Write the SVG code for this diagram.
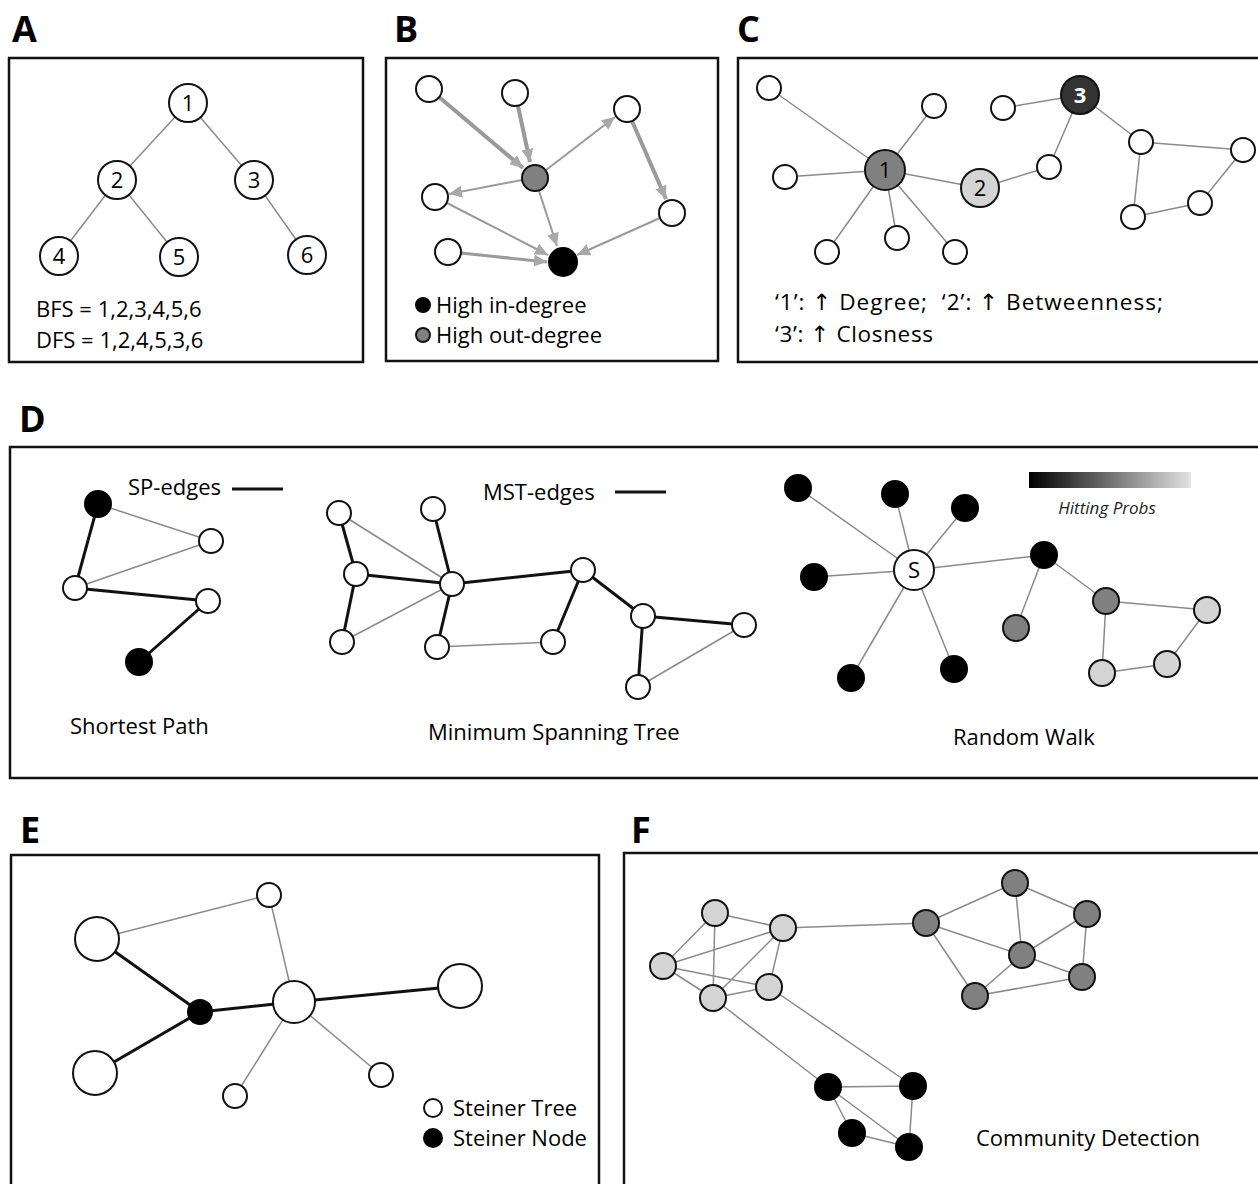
<svg xmlns="http://www.w3.org/2000/svg" width="1258" height="1184" viewBox="0 0 1258 1184">
<style>
text{font-family:"Open Sans","DejaVu Sans","Liberation Sans",sans-serif;fill:#000}
.lbl{font-size:36px;font-weight:700}
.t{font-size:22px}
.tc{font-size:22.5px}
.box{fill:none;stroke:#111;stroke-width:2.5}
.n{fill:#fff;stroke:#111;stroke-width:2}
.nb{fill:#000;stroke:#000;stroke-width:2}
.ng{fill:#808080;stroke:#111;stroke-width:2}
.nl{fill:#d4d4d4;stroke:#111;stroke-width:2}
.thin{stroke:#8a8a8a;stroke-width:1.5;fill:none}
.thick{stroke:#111;stroke-width:3;fill:none}
.arr{stroke:#9a9a9a;fill:none;marker-end:url(#ah)}
.num{font-size:22px;text-anchor:middle}
</style>
<defs>
<marker id="ah" markerUnits="userSpaceOnUse" markerWidth="14" markerHeight="12" refX="13" refY="6" orient="auto">
<path d="M0,0 L13,6 L0,12 z" fill="#a8a8a8"/>
</marker>
<linearGradient id="hp" x1="0" y1="0" x2="1" y2="0">
<stop offset="0" stop-color="#000"/>
<stop offset="1" stop-color="#e2e2e2"/>
</linearGradient>
</defs>
<rect width="1258" height="1184" fill="#fff"/>

<!-- Panel labels and boxes -->
<g id="panels">
<text class="lbl" x="12" y="42">A</text>
<text class="lbl" x="394" y="42">B</text>
<text class="lbl" x="737" y="42">C</text>
<text class="lbl" x="19" y="432">D</text>
<text class="lbl" x="20" y="843">E</text>
<text class="lbl" x="631" y="843">F</text>
<rect class="box" x="9" y="58" width="354" height="304"/>
<rect class="box" x="386" y="58" width="332" height="303"/>
<rect class="box" x="738" y="58" width="530" height="304"/>
<rect class="box" x="10" y="447" width="1260" height="331"/>
<rect class="box" x="11" y="855" width="588" height="340"/>
<rect class="box" x="624" y="853" width="650" height="340"/>
</g>

<!-- Connectors -->
<g id="connectors">
<!-- A -->
<line class="thin" x1="188" y1="103" x2="117" y2="180"/>
<line class="thin" x1="188" y1="103" x2="254" y2="180"/>
<line class="thin" x1="117" y1="180" x2="59" y2="256"/>
<line class="thin" x1="117" y1="180" x2="179" y2="257"/>
<line class="thin" x1="254" y1="180" x2="307" y2="255"/>
<!-- B -->
<line class="arr" stroke-width="4" x1="439" y1="97" x2="523" y2="168"/>
<line class="arr" stroke-width="4" x1="518" y1="106" x2="530" y2="162"/>
<line class="arr" stroke-width="2" x1="546" y1="170" x2="615" y2="117"/>
<line class="arr" stroke-width="2" x1="522" y1="180" x2="449" y2="194"/>
<line class="arr" stroke-width="2" x1="539" y1="191" x2="557" y2="246"/>
<line class="arr" stroke-width="4" x1="632" y1="121" x2="666" y2="199"/>
<line class="arr" stroke-width="2" x1="447" y1="203" x2="548" y2="255"/>
<line class="arr" stroke-width="3" x1="461" y1="253" x2="547" y2="262"/>
<line class="arr" stroke-width="2" x1="660" y1="218" x2="577" y2="255"/>
<!-- C -->
<line class="thin" x1="769" y1="88" x2="885" y2="170"/>
<line class="thin" x1="934" y1="106" x2="885" y2="170"/>
<line class="thin" x1="785" y1="177" x2="885" y2="170"/>
<line class="thin" x1="827" y1="252" x2="885" y2="170"/>
<line class="thin" x1="897" y1="238" x2="885" y2="170"/>
<line class="thin" x1="955" y1="252" x2="885" y2="170"/>
<line class="thin" x1="885" y1="170" x2="980" y2="188"/>
<line class="thin" x1="980" y1="188" x2="1049" y2="167"/>
<line class="thin" x1="1049" y1="167" x2="1080" y2="95"/>
<line class="thin" x1="1003" y1="108" x2="1080" y2="95"/>
<line class="thin" x1="1080" y1="95" x2="1141" y2="142"/>
<line class="thin" x1="1141" y1="142" x2="1243" y2="150"/>
<line class="thin" x1="1141" y1="142" x2="1133" y2="217"/>
<line class="thin" x1="1133" y1="217" x2="1200" y2="203"/>
<line class="thin" x1="1200" y1="203" x2="1243" y2="150"/>
<!-- D shortest path -->
<line class="thin" x1="98" y1="504" x2="211" y2="541"/>
<line class="thin" x1="75" y1="588" x2="211" y2="541"/>
<line class="thick" x1="98" y1="504" x2="75" y2="588"/>
<line class="thick" x1="75" y1="588" x2="208" y2="601"/>
<line class="thick" x1="208" y1="601" x2="139" y2="662"/>
<line class="thick" x1="232" y1="489" x2="283" y2="489"/>
<!-- D MST -->
<line class="thin" x1="339" y1="513" x2="452" y2="584"/>
<line class="thin" x1="342" y1="642" x2="452" y2="584"/>
<line class="thin" x1="437" y1="647" x2="553" y2="642"/>
<line class="thin" x1="744" y1="625" x2="638" y2="687"/>
<line class="thick" x1="339" y1="513" x2="356" y2="574"/>
<line class="thick" x1="356" y1="574" x2="452" y2="584"/>
<line class="thick" x1="356" y1="574" x2="342" y2="642"/>
<line class="thick" x1="433" y1="509" x2="452" y2="584"/>
<line class="thick" x1="452" y1="584" x2="437" y2="647"/>
<line class="thick" x1="452" y1="584" x2="583" y2="570"/>
<line class="thick" x1="583" y1="570" x2="553" y2="642"/>
<line class="thick" x1="583" y1="570" x2="643" y2="616"/>
<line class="thick" x1="643" y1="616" x2="744" y2="625"/>
<line class="thick" x1="643" y1="616" x2="638" y2="687"/>
<line class="thick" x1="615" y1="492" x2="666" y2="492"/>
<!-- D random walk -->
<line class="thin" x1="914" y1="570" x2="798" y2="488"/>
<line class="thin" x1="914" y1="570" x2="895" y2="494"/>
<line class="thin" x1="914" y1="570" x2="965" y2="508"/>
<line class="thin" x1="914" y1="570" x2="814" y2="577"/>
<line class="thin" x1="914" y1="570" x2="851" y2="678"/>
<line class="thin" x1="914" y1="570" x2="954" y2="669"/>
<line class="thin" x1="914" y1="570" x2="1044" y2="555"/>
<line class="thin" x1="1044" y1="555" x2="1016" y2="628"/>
<line class="thin" x1="1044" y1="555" x2="1106" y2="601"/>
<line class="thin" x1="1106" y1="601" x2="1207" y2="610"/>
<line class="thin" x1="1106" y1="601" x2="1102" y2="673"/>
<line class="thin" x1="1102" y1="673" x2="1167" y2="664"/>
<line class="thin" x1="1167" y1="664" x2="1207" y2="610"/>
<!-- E -->
<line class="thin" x1="97" y1="939" x2="269" y2="895"/>
<line class="thin" x1="269" y1="895" x2="294" y2="1002"/>
<line class="thin" x1="294" y1="1002" x2="235" y2="1096"/>
<line class="thin" x1="294" y1="1002" x2="381" y2="1075"/>
<line class="thick" x1="97" y1="939" x2="200" y2="1012"/>
<line class="thick" x1="95" y1="1073" x2="200" y2="1012"/>
<line class="thick" x1="200" y1="1012" x2="294" y2="1002"/>
<line class="thick" x1="294" y1="1002" x2="460" y2="986"/>
<!-- F -->
<line class="thin" x1="715" y1="913" x2="783" y2="928"/>
<line class="thin" x1="715" y1="913" x2="663" y2="966"/>
<line class="thin" x1="715" y1="913" x2="713" y2="998"/>
<line class="thin" x1="663" y1="966" x2="783" y2="928"/>
<line class="thin" x1="663" y1="966" x2="713" y2="998"/>
<line class="thin" x1="663" y1="966" x2="769" y2="987"/>
<line class="thin" x1="783" y1="928" x2="769" y2="987"/>
<line class="thin" x1="783" y1="928" x2="713" y2="998"/>
<line class="thin" x1="713" y1="998" x2="769" y2="987"/>
<line class="thin" x1="783" y1="928" x2="926" y2="923"/>
<line class="thin" x1="713" y1="998" x2="828" y2="1087"/>
<line class="thin" x1="769" y1="987" x2="913" y2="1086"/>
<line class="thin" x1="926" y1="923" x2="1015" y2="883"/>
<line class="thin" x1="926" y1="923" x2="1022" y2="955"/>
<line class="thin" x1="926" y1="923" x2="975" y2="996"/>
<line class="thin" x1="1015" y1="883" x2="1087" y2="914"/>
<line class="thin" x1="1015" y1="883" x2="1022" y2="955"/>
<line class="thin" x1="1087" y1="914" x2="1022" y2="955"/>
<line class="thin" x1="1087" y1="914" x2="1082" y2="977"/>
<line class="thin" x1="1022" y1="955" x2="1082" y2="977"/>
<line class="thin" x1="1022" y1="955" x2="975" y2="996"/>
<line class="thin" x1="975" y1="996" x2="1082" y2="977"/>
<line class="thin" x1="828" y1="1087" x2="913" y2="1086"/>
<line class="thin" x1="828" y1="1087" x2="852" y2="1133"/>
<line class="thin" x1="828" y1="1087" x2="909" y2="1147"/>
<line class="thin" x1="913" y1="1086" x2="909" y2="1147"/>
<line class="thin" x1="852" y1="1133" x2="909" y2="1147"/>
</g>

<!-- Panel A nodes -->
<g id="A-n1"><circle class="n" cx="188" cy="103" r="19"/><text class="num" x="188" y="111">1</text></g>
<g id="A-n2"><circle class="n" cx="117" cy="180" r="19"/><text class="num" x="117" y="188">2</text></g>
<g id="A-n3"><circle class="n" cx="254" cy="180" r="19"/><text class="num" x="254" y="188">3</text></g>
<g id="A-n4"><circle class="n" cx="59" cy="256" r="19"/><text class="num" x="59" y="264">4</text></g>
<g id="A-n5"><circle class="n" cx="179" cy="257" r="19"/><text class="num" x="179" y="265">5</text></g>
<g id="A-n6"><circle class="n" cx="307" cy="255" r="19"/><text class="num" x="307" y="263">6</text></g>
<g id="A-text"><text class="t" x="36" y="317">BFS = 1,2,3,4,5,6</text><text class="t" x="36" y="348">DFS = 1,2,4,5,3,6</text></g>

<!-- Panel B nodes -->
<g id="B-nodes">
<circle class="n" cx="429" cy="89" r="13"/>
<circle class="n" cx="515" cy="93" r="13"/>
<circle class="n" cx="627" cy="109" r="13"/>
<circle class="ng" cx="535" cy="178" r="13"/>
<circle class="n" cx="435" cy="197" r="13"/>
<circle class="n" cx="672" cy="213" r="13"/>
<circle class="n" cx="448" cy="252" r="13"/>
<circle class="nb" cx="563" cy="262" r="14"/>
</g>
<g id="B-legend">
<circle class="nb" cx="423" cy="305" r="7"/><text class="t" x="436" y="313">High in-degree</text>
<circle class="ng" cx="423" cy="335" r="7"/><text class="t" x="436" y="343">High out-degree</text>
</g>

<!-- Panel C nodes -->
<g id="C-nodes">
<circle class="n" cx="769" cy="88" r="12"/>
<circle class="n" cx="934" cy="106" r="12"/>
<circle class="n" cx="1003" cy="108" r="12"/>
<circle class="n" cx="785" cy="177" r="12"/>
<circle class="n" cx="1049" cy="167" r="12"/>
<circle class="n" cx="1141" cy="142" r="12"/>
<circle class="n" cx="1243" cy="150" r="12"/>
<circle class="n" cx="1133" cy="217" r="12"/>
<circle class="n" cx="1200" cy="203" r="12"/>
<circle class="n" cx="827" cy="252" r="12"/>
<circle class="n" cx="897" cy="238" r="12"/>
<circle class="n" cx="955" cy="252" r="12"/>
</g>
<g id="C-n1"><circle class="ng" cx="885" cy="170" r="20"/><text class="num" x="885" y="178">1</text></g>
<g id="C-n2"><circle class="nl" cx="980" cy="188" r="19"/><text class="num" x="980" y="196">2</text></g>
<g id="C-n3"><circle fill="#333" stroke="#111" stroke-width="2" cx="1080" cy="95" r="19"/><text class="num" x="1080" y="103" style="fill:#fff;font-weight:700">3</text></g>
<g id="C-text"><text class="tc" x="775" y="310" textLength="388" lengthAdjust="spacing">‘1’: ↑ Degree;&#160; ‘2’: ↑ Betweenness;</text><text class="tc" x="775" y="342" textLength="158" lengthAdjust="spacing">‘3’: ↑ Closness</text></g>

<!-- Panel D nodes -->
<g id="D-sp">
<circle class="nb" cx="98" cy="504" r="13"/>
<circle class="n" cx="211" cy="541" r="12"/>
<circle class="n" cx="75" cy="588" r="12"/>
<circle class="n" cx="208" cy="601" r="12"/>
<circle class="nb" cx="139" cy="662" r="13"/>
<text class="t" x="128" y="495">SP-edges</text>
<text class="t" x="70" y="734">Shortest Path</text>
</g>
<g id="D-mst">
<circle class="n" cx="339" cy="513" r="12"/>
<circle class="n" cx="433" cy="509" r="12"/>
<circle class="n" cx="356" cy="574" r="12"/>
<circle class="n" cx="452" cy="584" r="12"/>
<circle class="n" cx="342" cy="642" r="12"/>
<circle class="n" cx="437" cy="647" r="12"/>
<circle class="n" cx="553" cy="642" r="12"/>
<circle class="n" cx="583" cy="570" r="12"/>
<circle class="n" cx="643" cy="616" r="12"/>
<circle class="n" cx="744" cy="625" r="12"/>
<circle class="n" cx="638" cy="687" r="12"/>
<text class="t" x="483" y="500">MST-edges</text>
<text class="t" x="428" y="740">Minimum Spanning Tree</text>
</g>
<g id="D-rw">
<circle class="nb" cx="798" cy="488" r="13"/>
<circle class="nb" cx="895" cy="494" r="13"/>
<circle class="nb" cx="965" cy="508" r="13"/>
<circle class="nb" cx="814" cy="577" r="13"/>
<circle class="nb" cx="851" cy="678" r="13"/>
<circle class="nb" cx="954" cy="669" r="13"/>
<circle class="nb" cx="1044" cy="555" r="13"/>
<circle class="ng" cx="1016" cy="628" r="13"/>
<circle class="ng" cx="1106" cy="601" r="13"/>
<circle class="nl" cx="1207" cy="610" r="13"/>
<circle class="nl" cx="1167" cy="664" r="13"/>
<circle class="nl" cx="1102" cy="673" r="13"/>
<circle class="n" cx="914" cy="570" r="20"/>
<text class="num" x="914" y="578">S</text>
<rect x="1029" y="472" width="162" height="16" fill="url(#hp)"/>
<text x="1107" y="514" style="font-size:17px;font-style:italic;text-anchor:middle;fill:#222">Hitting Probs</text>
<text class="t" x="953" y="745">Random Walk</text>
</g>

<!-- Panel E nodes -->
<g id="E-nodes">
<circle class="n" cx="97" cy="939" r="22"/>
<circle class="n" cx="269" cy="895" r="12"/>
<circle class="nb" cx="200" cy="1012" r="12"/>
<circle class="n" cx="294" cy="1002" r="21"/>
<circle class="n" cx="460" cy="986" r="22"/>
<circle class="n" cx="95" cy="1073" r="22"/>
<circle class="n" cx="235" cy="1096" r="12"/>
<circle class="n" cx="381" cy="1075" r="12"/>
</g>
<g id="E-legend">
<circle class="n" cx="433" cy="1108" r="9"/><text class="t" x="453" y="1116">Steiner Tree</text>
<circle class="nb" cx="433" cy="1138" r="9"/><text class="t" x="453" y="1146">Steiner Node</text>
</g>

<!-- Panel F nodes -->
<g id="F-nodes">
<circle class="nl" cx="715" cy="913" r="13"/>
<circle class="nl" cx="783" cy="928" r="13"/>
<circle class="nl" cx="663" cy="966" r="13"/>
<circle class="nl" cx="769" cy="987" r="13"/>
<circle class="nl" cx="713" cy="998" r="13"/>
<circle class="ng" cx="926" cy="923" r="13"/>
<circle class="ng" cx="1015" cy="883" r="13"/>
<circle class="ng" cx="1087" cy="914" r="13"/>
<circle class="ng" cx="1022" cy="955" r="13"/>
<circle class="ng" cx="1082" cy="977" r="13"/>
<circle class="ng" cx="975" cy="996" r="13"/>
<circle class="nb" cx="828" cy="1087" r="13"/>
<circle class="nb" cx="913" cy="1086" r="13"/>
<circle class="nb" cx="852" cy="1133" r="13"/>
<circle class="nb" cx="909" cy="1147" r="13"/>
<text class="t" x="976" y="1146">Community Detection</text>
</g>
</svg>
